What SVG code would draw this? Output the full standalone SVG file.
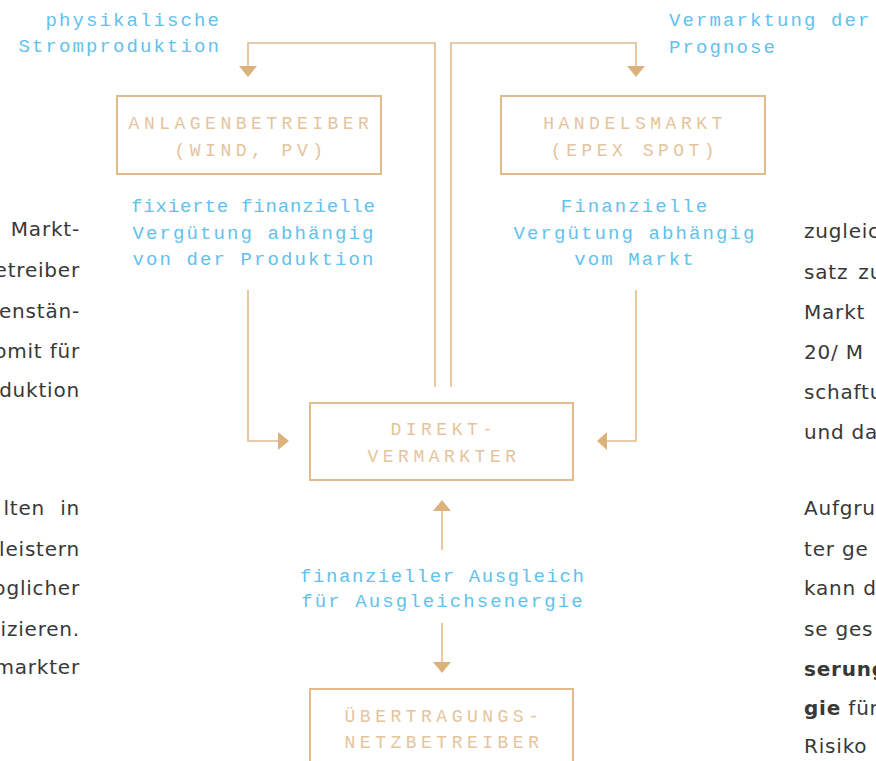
<svg xmlns="http://www.w3.org/2000/svg" width="876" height="761" viewBox="0 0 876 761">
<defs>
<style>
.box{fill:none;stroke:#e2bb8d;stroke-width:2}
.line{fill:none;stroke:#e2bb8d;stroke-width:1.6}
.head{fill:#dcb27c}
.node{font-family:"Liberation Mono","Courier New",monospace;font-size:18px;letter-spacing:4.5px;fill:#e5c49c;text-anchor:middle}
.lbl{font-family:"Liberation Mono","Courier New",monospace;font-size:19px;letter-spacing:2.1px;fill:#62c1ee}
.body{font-family:"DejaVu Sans","Open Sans",sans-serif;font-size:20px;letter-spacing:0.8px;fill:#383838}
.b{font-weight:bold}
</style>
</defs>
<rect width="876" height="761" fill="#ffffff"/>
<g id="body-left" class="body" text-anchor="end">
<text x="80" y="236">Markt-</text>
<text x="80" y="277">etreiber</text>
<text x="80" y="318">enstän-</text>
<text x="80" y="358">omit für</text>
<text x="80" y="397">duktion</text>
<text x="80" y="515" word-spacing="8">lten in</text>
<text x="80" y="556">leistern</text>
<text x="80" y="595">oglicher</text>
<text x="80" y="636">izieren.</text>
<text x="80" y="674">markter</text>
</g>
<g id="body-right" class="body">
<text x="804" y="238">zugleic</text>
<text x="804" y="279" word-spacing="3">satz zu</text>
<text x="804" y="319">Markt</text>
<text x="804" y="359">20/ M</text>
<text x="804" y="399">schaftu</text>
<text x="804" y="439">und da</text>
<text x="804" y="515">Aufgru</text>
<text x="804" y="556">ter ge</text>
<text x="804" y="595">kann d</text>
<text x="804" y="636">se ges</text>
<text x="804" y="676" class="b">serung</text>
<text x="804" y="715"><tspan class="b">gie</tspan> für</text>
<text x="804" y="753">Risiko</text>
</g>
<g id="connectors">
<path class="line" d="M435,387 V43 H248 V68"/>
<path class="head" d="M239,66 H257 L248,77 Z"/>
<path class="line" d="M451,387 V43 H636 V68"/>
<path class="head" d="M627,66 H645 L636,77 Z"/>
<path class="line" d="M248,290 V441 H280"/>
<path class="head" d="M278,432 V450 L289,441 Z"/>
<path class="line" d="M636,290 V441 H605"/>
<path class="head" d="M607,432 V450 L597,441 Z"/>
<path class="line" d="M442,509 V550"/>
<path class="head" d="M433,511 H451 L442,500 Z"/>
<path class="line" d="M442,623 V664"/>
<path class="head" d="M433,662 H451 L442,673 Z"/>
</g>
<g id="label-physikalisch" class="lbl" text-anchor="end">
<text x="221" y="26">physikalische</text>
<text x="221" y="52">Stromproduktion</text>
</g>
<g id="label-vermarktung" class="lbl">
<text x="669" y="26">Vermarktung der</text>
<text x="669" y="53">Prognose</text>
</g>
<g id="node-anlagenbetreiber">
<rect class="box" x="117" y="96" width="264" height="78"/>
<text class="node" x="251" y="129">ANLAGENBETREIBER</text>
<text class="node" x="251" y="156">(WIND, PV)</text>
</g>
<g id="node-handelsmarkt">
<rect class="box" x="501" y="96" width="264" height="78"/>
<text class="node" x="635" y="129">HANDELSMARKT</text>
<text class="node" x="635" y="156">(EPEX SPOT)</text>
</g>
<g id="label-fixiert" class="lbl" text-anchor="middle">
<text x="254" y="212" textLength="246" lengthAdjust="spacing">fixierte finanzielle</text>
<text x="254" y="239">Vergütung abhängig</text>
<text x="254" y="265">von der Produktion</text>
</g>
<g id="label-markt" class="lbl" text-anchor="middle">
<text x="635" y="212">Finanzielle</text>
<text x="635" y="239">Vergütung abhängig</text>
<text x="635" y="265">vom Markt</text>
</g>
<g id="node-direktvermarkter">
<rect class="box" x="310" y="403" width="263" height="77"/>
<text class="node" x="444" y="435">DIREKT-</text>
<text class="node" x="444" y="462">VERMARKTER</text>
</g>
<g id="label-ausgleich" class="lbl" text-anchor="middle">
<text x="443" y="582" textLength="286" lengthAdjust="spacing">finanzieller Ausgleich</text>
<text x="443" y="607">für Ausgleichsenergie</text>
</g>
<g id="node-uebertragungsnetzbetreiber">
<rect class="box" x="310" y="689" width="263" height="90"/>
<text class="node" x="444" y="722">ÜBERTRAGUNGS-</text>
<text class="node" x="444" y="748">NETZBETREIBER</text>
</g>
</svg>
